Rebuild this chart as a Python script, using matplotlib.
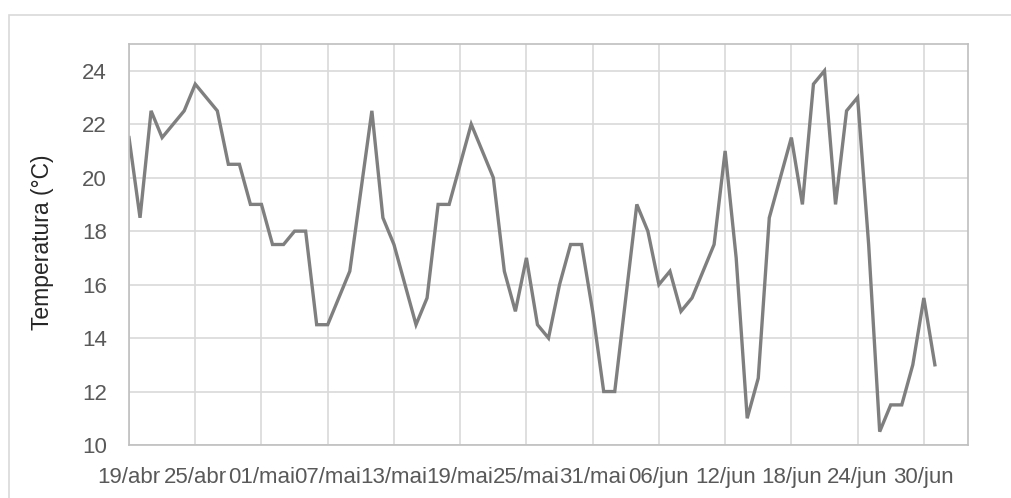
import datetime as dt
import matplotlib
matplotlib.use("Agg")
import matplotlib.pyplot as plt
import matplotlib.dates as mdates
from matplotlib.patches import Rectangle

# dados diarios (temperatura media)
inicio = dt.date(2019, 4, 19)
temperatura = [21.5, 18.5, 22.5, 21.5, 22, 22.5, 23.5, 23, 22.5, 20.5,
               20.5, 19, 19, 17.5, 17.5, 18, 18, 14.5, 14.5, 15.5,
               16.5, 19.5, 22.5, 18.5, 17.5, 16, 14.5, 15.5, 19, 19,
               20.5, 22, 21, 20, 16.5, 15, 17, 14.5, 14, 16,
               17.5, 17.5, 15, 12, 12, 15.5, 19, 18, 16, 16.5,
               15, 15.5, 16.5, 17.5, 21, 17, 11, 12.5, 18.5, 20,
               21.5, 19, 23.5, 24, 19, 22.5, 23, 17.5, 10.5, 11.5,
               11.5, 13, 15.5, 13]
meses = {4: "abr", 5: "mai", 6: "jun", 7: "jul"}
y_ticks = [10, 12, 14, 16, 18, 20, 22, 24]

datas = [inicio + dt.timedelta(days=i) for i in range(len(temperatura))]
ticks_x = [inicio + dt.timedelta(days=6 * k) for k in range(13)]

plt.rcParams['font.family'] = ['Liberation Sans', 'DejaVu Sans']

fig = plt.figure(figsize=(10.11, 4.98), dpi=100)
ax = fig.add_axes([129 / 1011, 53 / 498, 839 / 1011, 401 / 498])

# borda externa do grafico
fig.patches.append(Rectangle((8.5 / 1011, -0.2), 1.2, (498 - 15) / 498 + 0.2,
                             transform=fig.transFigure, fill=False,
                             edgecolor="#D9D9D9", linewidth=1.2, clip_on=False))

ax.plot(datas, temperatura, color="#7F7F7F", linewidth=2.4, solid_joinstyle="miter")

ax.set_ylim(10, 25)
ax.set_yticks(y_ticks)
ax.set_xlim(inicio, inicio + dt.timedelta(days=76))
ax.set_xticks(ticks_x)
ax.xaxis.set_major_formatter(
    plt.FuncFormatter(lambda v, p: "%02d/%s" % (mdates.num2date(v).day, meses[mdates.num2date(v).month])))

ax.grid(True, color="#D9D9D9", linewidth=1.2)
ax.set_axisbelow(True)
for s in ax.spines.values():
    s.set_color("#BFBFBF")
    s.set_linewidth(1.2)
ax.tick_params(axis="x", length=0, labelsize=16, labelcolor="#595959", pad=16)
ax.tick_params(axis="y", length=0, labelsize=16, labelcolor="#595959", pad=16)

fig.text(43 / 1011, 1 - 242 / 498, "Temperatura (°C)", rotation=90, ha="center", va="center",
         fontsize=16.5, color="#262626")

fig.savefig("out.png", dpi=100)
